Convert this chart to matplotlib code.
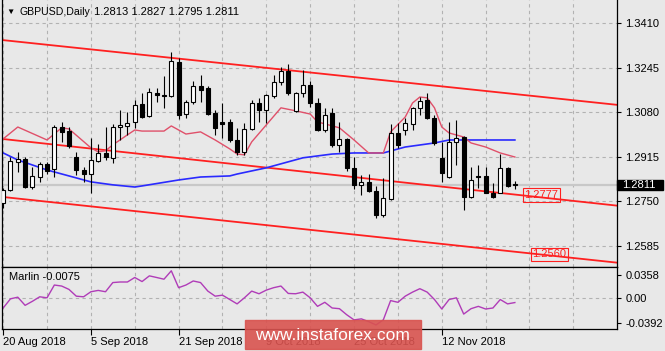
import numpy as np
import matplotlib
matplotlib.use('Agg')
import matplotlib.pyplot as plt
import matplotlib.transforms as mtransforms
from matplotlib.patches import Rectangle

plt.rcParams['font.family'] = ['Liberation Sans', 'DejaVu Sans']
plt.rcParams['font.size'] = 8

# GBPUSD daily bars, 20 Aug 2018 .. 26 Nov 2018
opens = [1.2744, 1.2792, 1.2896, 1.2907, 1.2803, 1.2840, 1.2888, 1.2870, 1.3025, 1.3010,
         1.2914, 1.2866, 1.2851, 1.2899, 1.2929, 1.2911, 1.3025, 1.3029, 1.3044, 1.3110,
         1.3066, 1.3151, 1.3144, 1.3140, 1.3266, 1.3073, 1.3118, 1.3177, 1.3170, 1.3077,
         1.3044, 1.3044, 1.2977, 1.2933, 1.3018, 1.3114, 1.3088, 1.3140, 1.3192, 1.3232,
         1.3084, 1.3151, 1.3181, 1.3114, 1.3014, 1.3077, 1.2959, 1.2981, 1.2874, 1.2811,
         1.2822, 1.2788, 1.2700, 1.2759, 1.3003, 1.3014, 1.3036, 1.3096, 1.3125, 1.3059,
         1.2911, 1.2840, 1.2970, 1.2988, 1.2766, 1.2844, 1.2844, 1.2781, 1.2781, 1.2874,
         1.2813]
highs = [1.2800, 1.2914, 1.2933, 1.2914, 1.2877, 1.2896, 1.2896, 1.3033, 1.3044, 1.3025,
         1.2933, 1.2877, 1.2985, 1.2962, 1.3025, 1.3036, 1.3088, 1.3081, 1.3125, 1.3151,
         1.3170, 1.3170, 1.3214, 1.3303, 1.3281, 1.3125, 1.3195, 1.3218, 1.3177, 1.3088,
         1.3114, 1.3055, 1.3022, 1.3040, 1.3125, 1.3133, 1.3147, 1.3218, 1.3247, 1.3258,
         1.3155, 1.3236, 1.3195, 1.3133, 1.3096, 1.3096, 1.3044, 1.2985, 1.2914, 1.2848,
         1.2851, 1.2807, 1.2836, 1.3036, 1.3040, 1.3059, 1.3099, 1.3136, 1.3151, 1.3070,
         1.2970, 1.3044, 1.3051, 1.2990, 1.2877, 1.2885, 1.2877, 1.2818, 1.2925, 1.2877,
         1.2827]
lows = [1.2726, 1.2788, 1.2859, 1.2800, 1.2796, 1.2822, 1.2851, 1.2840, 1.2970, 1.2948,
        1.2848, 1.2822, 1.2781, 1.2896, 1.2903, 1.2892, 1.2977, 1.2996, 1.3022, 1.3059,
        1.3062, 1.3118, 1.3096, 1.3136, 1.3055, 1.3059, 1.3110, 1.3118, 1.3070, 1.2996,
        1.2985, 1.2970, 1.2922, 1.2922, 1.3014, 1.3044, 1.3040, 1.3133, 1.3181, 1.3144,
        1.3081, 1.3136, 1.3099, 1.3010, 1.3007, 1.2951, 1.2933, 1.2862, 1.2796, 1.2774,
        1.2785, 1.2689, 1.2692, 1.2755, 1.2948, 1.2996, 1.3014, 1.3070, 1.3055, 1.2959,
        1.2822, 1.2838, 1.2885, 1.2718, 1.2762, 1.2800, 1.2779, 1.2764, 1.2779, 1.2803,
        1.2795]
closes = [1.2792, 1.2899, 1.2907, 1.2803, 1.2844, 1.2888, 1.2862, 1.3025, 1.3007, 1.2955,
          1.2866, 1.2851, 1.2903, 1.2929, 1.2914, 1.3025, 1.3033, 1.3040, 1.3107, 1.3062,
          1.3155, 1.3144, 1.3140, 1.3269, 1.3070, 1.3118, 1.3177, 1.3162, 1.3073, 1.3022,
          1.3036, 1.2977, 1.2933, 1.3018, 1.3114, 1.3088, 1.3144, 1.3192, 1.3232, 1.3151,
          1.3151, 1.3181, 1.3114, 1.3014, 1.3070, 1.2959, 1.2981, 1.2874, 1.2811, 1.2822,
          1.2788, 1.2700, 1.2763, 1.3003, 1.2959, 1.3040, 1.3096, 1.3121, 1.3059, 1.2966,
          1.2855, 1.2970, 1.2985, 1.2766, 1.2829, 1.2840, 1.2781, 1.2766, 1.2874, 1.2807,
          1.2811]

# moving averages (bar index, price)
fast_ma_idx = [0, 2, 6, 8, 9, 12, 13, 14, 15, 17, 18, 19, 22, 23, 25, 27, 29, 31, 32, 33,
               34, 36, 38, 40, 42, 43, 46, 48, 50, 52, 53, 55, 56, 57, 58, 59, 60, 61, 63,
               64, 66, 68, 70]
fast_ma = [1.2981, 1.3025, 1.2977, 1.3022, 1.3018, 1.2948, 1.2933, 1.2937, 1.2959, 1.2996,
           1.3014, 1.3010, 1.3010, 1.3029, 1.2999, 1.3007, 1.2977, 1.2944, 1.2925, 1.2922,
           1.2970, 1.3033, 1.3096, 1.3085, 1.3073, 1.3044, 1.3022, 1.2977, 1.2929, 1.2929,
           1.3007, 1.3062, 1.3114, 1.3136, 1.3133, 1.3096, 1.3025, 1.3003, 1.2988, 1.2966,
           1.2951, 1.2929, 1.2914]
slow_ma_idx = [0, 2, 6, 9, 12, 15, 18, 19, 24, 27, 31, 32, 36, 41, 45, 48, 52, 55, 59, 61, 70]
slow_ma = [1.2929, 1.2903, 1.2866, 1.2844, 1.2822, 1.2811, 1.2803, 1.2807, 1.2829, 1.2840,
           1.2844, 1.2851, 1.2874, 1.2911, 1.2925, 1.2929, 1.2929, 1.2951, 1.2966, 1.2977,
           1.2977]

# channel lines: price at bar 0 and bar 84
chan_x = [0, 84]
chan_top = [1.33465, 1.3107]
chan_mid = [1.29805, 1.2734]
chan_low = [1.2766, 1.2523]
mid_label, low_label = '1.2777', '1.2560'

marlin = [-0.0161, -0.0016, 0.0010, -0.0119, -0.0055, 0.0016, 0.0000, 0.0202, 0.0186, 0.0133,
          0.0026, 0.0016, 0.0096, 0.0117, 0.0096, 0.0241, 0.0250, 0.0250, 0.0321, 0.0257,
          0.0347, 0.0321, 0.0294, 0.0427, 0.0160, 0.0202, 0.0266, 0.0241, 0.0106, 0.0026,
          0.0042, -0.0027, -0.0096, 0.0000, 0.0106, 0.0064, 0.0122, 0.0160, 0.0186, 0.0069,
          0.0064, 0.0090, 0.0000, -0.0135, -0.0071, -0.0161, -0.0172, -0.0268, -0.0349, -0.0333,
          -0.0376, -0.0429, -0.0349, -0.0044, -0.0071, 0.0026, 0.0090, 0.0144, 0.0090, -0.0027,
          -0.0177, -0.0027, 0.0000, -0.0257, -0.0172, -0.0135, -0.0177, -0.0161, -0.0027, -0.0096,
          -0.0075]

price_ticks = [1.3410, 1.3245, 1.3080, 1.2915, 1.2750, 1.2585]
marlin_ticks = [0.0358, 0.0, -0.0392]
marlin_tick_labels = ['0.0358', '0.00', '-0.0392']
date_idx = [0, 12, 24, 36, 48, 60]
date_labels = ['20 Aug 2018', '5 Sep 2018', '21 Sep 2018', '9 Oct 2018', '25 Oct 2018', '12 Nov 2018']

bg = '#e8e8e8'
grid_kw = dict(color='#b2b2b2', lw=0.8, ls=(0, (3, 3)))
W, H = 665, 351

fig = plt.figure(figsize=(W / 100, H / 100), dpi=100, facecolor=bg)
ax = fig.add_axes([2 / W, 84 / H, 615 / W, 267 / H], facecolor=bg)
ax2 = fig.add_axes([2 / W, 22 / H, 615 / W, 62 / H], facecolor=bg)

xlim = (-0.16, 83.97)

# ---- main price panel
o = np.array(opens); h = np.array(highs); l = np.array(lows); c = np.array(closes)
idx = np.arange(len(o))
up = c >= o
last = closes[-1]

ax.axhline(last, color='#c8c8c8', lw=1.6, zorder=1)
for x in range(0, 84, 6):
    ax.axvline(x, zorder=0, **grid_kw)
for p in price_ticks:
    ax.axhline(p, zorder=0, **grid_kw)

ax.plot(chan_x, chan_top, color='#ff2020', lw=1.3, zorder=2)
ax.plot(chan_x, chan_mid, color='#ff2020', lw=1.3, zorder=2)
ax.plot(chan_x, chan_low, color='#ff2020', lw=1.3, zorder=2)
ax.plot(slow_ma_idx, slow_ma, color='#2a2aff', lw=1.2, zorder=2)
ax.plot(fast_ma_idx, fast_ma, color='#e0506a', lw=1.0, zorder=2)

ax.vlines(idx, l, h, color='black', lw=0.8, zorder=3)
ax.bar(idx[up], (c - o)[up], bottom=o[up], width=0.55, color='white',
       edgecolor='black', lw=0.8, zorder=4)
ax.bar(idx[~up], (o - c)[~up], bottom=c[~up], width=0.55, color='black',
       edgecolor='black', lw=0.8, zorder=4)

ax.set_xlim(*xlim)
ax.set_ylim(1.2507, 1.3495)
ax.set_xticks([])
ax.yaxis.tick_right()
ax.set_yticks(price_ticks)
ax.set_yticklabels(['%.4f' % p for p in price_ticks])
ax.tick_params(axis='y', length=3, width=0.8, pad=3, colors='black')
ax.spines['top'].set_visible(False)
for s in ['left', 'right', 'bottom']:
    ax.spines[s].set_linewidth(0.9)

# channel value labels
box = dict(boxstyle='square,pad=0.15', fc='none', ec='#ff2020', lw=0.8)
ax.text(71.3, 1.2774, mid_label, color='#ff2020', ha='left', va='center', bbox=box, zorder=5)
ax.text(72.4, 1.2554, low_label, color='#ff2020', ha='left', va='center', bbox=box, zorder=5)

# current price box on the axis
tr = mtransforms.blended_transform_factory(fig.transFigure, ax.transData)
ax.add_patch(Rectangle((617 / W, last - 0.00185), 46 / W, 0.0037, transform=tr,
                       color='black', clip_on=False, zorder=6))
ax.text(622 / W, last, '%.4f' % last, transform=tr, color='white', ha='left',
        va='center', zorder=7, clip_on=False)

# title
fig.text(10 / W, 1 - 12 / H, '\u25bc', fontsize=6, ha='center', va='center')
fig.text(20 / W, 1 - 12 / H, 'GBPUSD,Daily', fontsize=7.6, ha='left', va='center')
fig.text(94 / W, 1 - 12 / H, '%.4f %.4f %.4f %.4f' % (opens[-1], highs[-1], lows[-1], closes[-1]),
         fontsize=8, ha='left', va='center')

# ---- Marlin panel
ax2.axhline(0, zorder=0, **grid_kw)
for x in range(0, 84, 6):
    ax2.axvline(x, zorder=0, **grid_kw)
ax2.plot(idx, marlin, color='#b03cb8', lw=1.0, zorder=2)
ax2.set_xlim(*xlim)
ax2.set_ylim(-0.0493, 0.0487)
ax2.yaxis.tick_right()
ax2.set_yticks(marlin_ticks)
ax2.set_yticklabels(marlin_tick_labels)
ax2.tick_params(axis='y', length=3, width=0.8, pad=3)
ax2.set_xticks(date_idx)
ax2.set_xticklabels(date_labels, ha='left')
ax2.tick_params(axis='x', length=4, width=0.8, pad=2)
for s in ax2.spines.values():
    s.set_linewidth(0.9)
ax2.text(7 / 615, 0.84, 'Marlin %.4f' % marlin[-1], transform=ax2.transAxes,
         ha='left', va='center')

# watermark
fig.add_artist(Rectangle((245 / W, 2 / H), 176 / W, 29 / H, transform=fig.transFigure,
                         color='#d9534f', alpha=0.9, zorder=10))
fig.text(332 / W, 1 - 335 / H, 'www.instaforex.com', color='white', fontsize=12.5,
         ha='center', va='center', zorder=11)

fig.savefig('out.png', dpi=100, facecolor=bg)
